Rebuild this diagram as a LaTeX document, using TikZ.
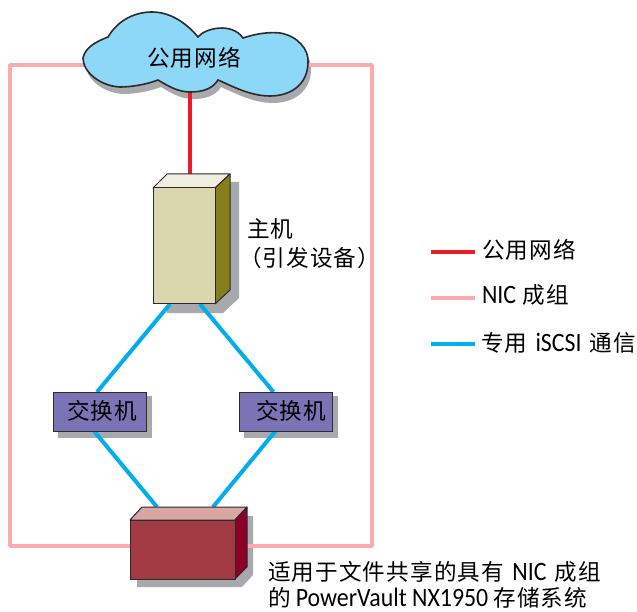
\documentclass[tikz,border=0pt]{standalone}
\usepackage{fontspec}
\setmainfont[LetterSpace=5]{Noto Sans CJK SC}
\newfontfamily\latinf[FakeStretch=0.9]{Carlito}
\newcommand{\lat}[1]{{\latinf\fontsize{26.5}{28}\selectfont #1}}
\definecolor{pinkline}{HTML}{F9ABAE}
\definecolor{blueline}{HTML}{00AEEF}
\definecolor{redline}{HTML}{ED1C24}
\definecolor{shadowc}{HTML}{A7A9AC}
\definecolor{edgec}{HTML}{2B2B2B}
\definecolor{switchc}{HTML}{7A73B5}
\definecolor{hostc}{HTML}{DAD7AE}
\definecolor{hosttop}{HTML}{F0EEE0}
\definecolor{hostside}{HTML}{867D1B}
\definecolor{storc}{HTML}{A23A43}
\definecolor{stortop}{HTML}{D9A6A1}
\definecolor{storside}{HTML}{8C0028}
\definecolor{cloudc}{HTML}{8DD7F7}
\tikzset{
  x=1pt,y=-1pt,
  pinklink/.style={draw=pinkline,line width=3.6pt,line join=round},
  bluelink/.style={draw=blueline,line width=4pt},
  redlink/.style={draw=redline,line width=4pt},
  legendline/.style={line width=4.6pt},
  shadowpart/.style={fill=shadowc,draw=none},
  facepart/.style={draw=edgec,line width=1pt,line join=round},
  boxface/.style={draw=edgec,line width=1pt,inner sep=0pt,outer sep=0pt,rectangle,anchor=north west},
  switchbox/.style={boxface,fill=switchc,minimum width=93pt,minimum height=39pt},
  textlabel/.style={inner sep=0pt,outer sep=0pt,anchor=west,font=\fontsize{22.6}{24}\selectfont},
  cloudshape/.style={insert path={(83,58) .. controls (85,48) and (95,42) .. (108,37)
 .. controls (118,20) and (135,12) .. (152,12)
 .. controls (172,12) and (188,25) .. (198,37)
 .. controls (205,28) and (232,22) .. (243,38)
 .. controls (258,33) and (270,32) .. (280,33)
 .. controls (298,36) and (309,50) .. (308,62)
 .. controls (308,85) and (290,96) .. (270,96)
 .. controls (250,96) and (232,86) .. (218,80)
 .. controls (212,90) and (200,92) .. (190,92)
 .. controls (178,92) and (168,86) .. (158,80)
 .. controls (145,85) and (130,87) .. (120,87)
 .. controls (100,86) and (83,72) .. (83,58) -- cycle}},
}
\begin{document}
\begin{tikzpicture}
\useasboundingbox (0,0) rectangle (637,612);
\fill[white] (0,0) rectangle (637,612);
% shadows
\fill[shadowc,shift={(3,7)},cloudshape];
\fill[shadowpart] (167,182) -- (239,182) -- (239,298) -- (223,313) -- (167,313) -- cycle;
\fill[shadowpart] (58,396) -- (152,396) -- (152,438) -- (58,438) -- cycle;
\fill[shadowpart] (244,396) -- (338,396) -- (338,438) -- (244,438) -- cycle;
\fill[shadowpart] (137,516) -- (253,516) -- (253,575) -- (242,587) -- (137,587) -- cycle;
% frame
\coordinate (frameTL) at (10,65);
\coordinate (frameTR) at (372,65);
\coordinate (frameBR) at (372,546);
\coordinate (frameBL) at (10,546);
% nodes
\node[boxface,fill=hostc,minimum width=62pt,minimum height=116pt] (host) at (153,188) {};
\node[switchbox] (swL) at (53,392) {};
\node[switchbox] (swR) at (239.5,392) {};
\node[boxface,fill=storc,minimum width=105pt,minimum height=59pt] (stor) at (130,520) {};
\coordinate (cloudL) at (84,65);
\coordinate (cloudR) at (307,65);
\coordinate (cloudB) at (190,90);
\coordinate (hostT) at (190,175);
\draw[pinklink] (cloudL) -- (frameTL) -- (frameBL) -- (stor.west |- frameBL);
\draw[pinklink] (cloudR) -- (frameTR) -- (frameBR) -- (stor.east |- frameBR);
\draw[redlink] (cloudB) -- (hostT);
\draw[bluelink] ([xshift=17pt]host.south west) -- ([xshift=44pt]swL.north west);
\draw[bluelink] ([xshift=47pt]host.south west) -- ([xshift=34pt]swR.north west);
\draw[bluelink] ([xshift=41pt]swL.south west) -- ([xshift=27pt,yshift=13pt]stor.north west);
\draw[bluelink] ([xshift=36pt]swR.south west) -- ([xshift=83pt,yshift=13pt]stor.north west);
% cloud
\fill[cloudc,cloudshape];
\draw[draw=edgec,line width=1.6pt,line join=miter,cloudshape];
% host faces
\draw[facepart,fill=hosttop] (host.north west) -- (167,174) -- (230,174) -- (host.north east) -- cycle;
\draw[facepart,fill=hostside] (host.north east) -- (230,174) -- (230,290) -- (host.south east) -- cycle;
\node[boxface,fill=hostc,minimum width=62pt,minimum height=116pt] at (153,188) {};
% storage faces
\draw[facepart,fill=stortop] (stor.north west) -- (142,507) -- (247,507) -- (stor.north east) -- cycle;
\draw[facepart,fill=storside] (stor.north east) -- (247,507) -- (247,567) -- (stor.south east) -- cycle;
\node[boxface,fill=storc,minimum width=105pt,minimum height=59pt] at (130,520) {};
\node[switchbox] at (53,392) {};
\node[switchbox] at (239.5,392) {};
% labels
\node[textlabel] (tCloud) at (147,58) {公用网络};
\node[textlabel] (tSwL) at (67,411) {交换机};
\node[textlabel] (tSwR) at (256,411) {交换机};
\node[textlabel] (tHost1) at (247,229) {主机};
\node[textlabel] (tHost2) at (239,258) {（引发设备）};
\node[textlabel] (tStor1) at (268,572) {适用于文件共享的具有\hspace{2pt} \lat{NIC} \hspace{2pt}成组};
\node[textlabel] (tStor2) at (268,598) {的\hspace{-1pt} \lat{PowerVault NX1950} \hspace{-1pt}存储系统};
% legend
\coordinate (lr1) at (431,252);\coordinate (lr2) at (475,252);
\coordinate (lp1) at (431,298);\coordinate (lp2) at (475,298);
\coordinate (lb1) at (431,344);\coordinate (lb2) at (475,344);
\draw[redlink,legendline] (lr1) -- (lr2);
\draw[pinklink,legendline] (lp1) -- (lp2);
\draw[bluelink,legendline] (lb1) -- (lb2);
\node[textlabel] (tL1) at (482,250) {公用网络};
\node[textlabel] (tL2) at (482,295) {\lat{NIC} 成组};
\node[textlabel] (tL3) at (481,343) {专用\hspace{2pt} \lat{iSCSI} \hspace{2pt}通信};
\end{tikzpicture}
\end{document}
